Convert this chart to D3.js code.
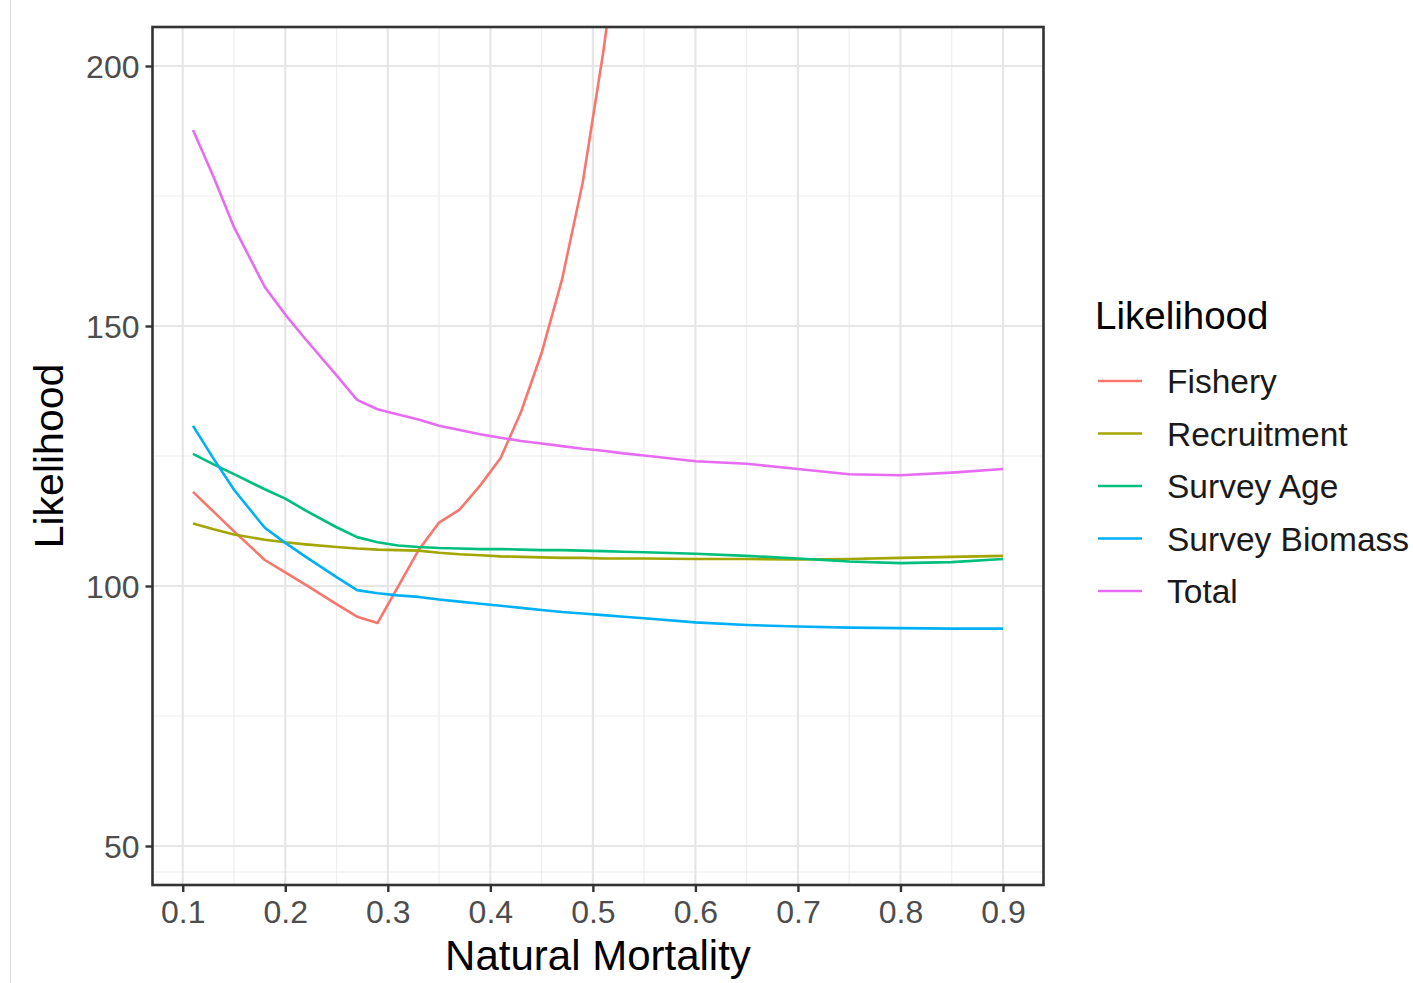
<!DOCTYPE html>
<html>
<head>
<meta charset="utf-8">
<script src="https://cdn.jsdelivr.net/npm/d3@7"></script>
<style>
  html, body { margin: 0; padding: 0; background: #fff; }
  svg { display: block; font-family: "Liberation Sans", Arial, Helvetica, sans-serif; }
</style>
</head>
<body>
<svg id="chart" width="1413" height="983"></svg>
<script>
// Natural mortality values at which the likelihood profile was evaluated
const mortality = [0.11, 0.13, 0.15, 0.18, 0.20, 0.22, 0.25, 0.27, 0.29, 0.31,
                   0.33, 0.35, 0.37, 0.39, 0.41, 0.43, 0.45, 0.47, 0.49, 0.51,
                   0.53, 0.55, 0.60, 0.65, 0.70, 0.75, 0.80, 0.85, 0.90];

// Likelihood components (null = beyond the plotted range)
const fishery = [118.1, 114.3, 110.5, 105.0, 102.6, 100.2, 96.5, 94.1, 92.9, 99.9,
                 106.9, 112.2, 114.7, 119.3, 124.6, 133.5, 144.8, 159.0, 177.5, 202.5,
                 232.0, null, null, null, null, null, null, null, null];
const recruitment = [112.0, 110.9, 109.9, 108.9, 108.4, 108.0, 107.5, 107.2, 107.0, 106.9,
                     106.8, 106.4, 106.1, 105.9, 105.7, 105.6, 105.5, 105.4, 105.4, 105.3,
                     105.3, 105.3, 105.2, 105.2, 105.1, 105.2, 105.4, 105.6, 105.8];
const surveyAge = [125.4, 123.4, 121.5, 118.6, 116.8, 114.5, 111.3, 109.4, 108.4, 107.8,
                   107.5, 107.3, 107.2, 107.1, 107.1, 107.0, 106.9, 106.9, 106.8, 106.7,
                   106.6, 106.5, 106.2, 105.8, 105.3, 104.7, 104.4, 104.6, 105.2];
const surveyBiomass = [130.8, 124.5, 118.5, 111.2, 108.3, 105.6, 101.7, 99.2, 98.6, 98.2,
                       97.9, 97.4, 97.0, 96.6, 96.2, 95.8, 95.4, 95.0, 94.7, 94.4,
                       94.1, 93.8, 93.0, 92.5, 92.2, 92.0, 91.9, 91.8, 91.8];
const total = [187.7, 178.7, 169.0, 157.5, 152.2, 147.4, 140.5, 135.8, 134.0, 133.0,
               132.0, 130.8, 130.0, 129.2, 128.5, 127.9, 127.4, 126.9, 126.4, 126.0,
               125.5, 125.1, 124.0, 123.5, 122.5, 121.5, 121.3, 121.8, 122.5];

const seriesNames = ["Fishery", "Recruitment", "Survey Age", "Survey Biomass", "Total"];
const seriesValues = [fishery, recruitment, surveyAge, surveyBiomass, total];
const seriesColors = ["#F8766D", "#A3A500", "#00BF7D", "#00B0F6", "#E76BF3"];

const xTicks = [0.1, 0.2, 0.3, 0.4, 0.5, 0.6, 0.7, 0.8, 0.9];
const xMinor = [0.15, 0.25, 0.35, 0.45, 0.55, 0.65, 0.75, 0.85];
const yTicks = [50, 100, 150, 200];
const yMinor = [45, 75, 125, 175];

const svg = d3.select("#chart");
const panel = { left: 152.5, right: 1043.5, top: 27, bottom: 885 };

// x spans the data range plus 5% padding; y shows 50–200 plus 5% padding
const x = d3.scaleLinear().domain([0.0705, 0.9395]).range([panel.left, panel.right]);
const y = d3.scaleLinear().domain([42.5, 207.5]).range([panel.bottom, panel.top]);

// faint outer frame of the figure
svg.append("line").attr("x1", 10.5).attr("x2", 10.5).attr("y1", 0).attr("y2", 983)
  .attr("stroke", "#d9d9d9").attr("stroke-width", 1);

// grid
const grid = svg.append("g");
grid.selectAll(".ymin").data(yMinor).join("line")
  .attr("x1", panel.left).attr("x2", panel.right)
  .attr("y1", d => y(d)).attr("y2", d => y(d))
  .attr("stroke", "#EEEEEE").attr("stroke-width", 1.2);
grid.selectAll(".xmin").data(xMinor).join("line")
  .attr("y1", panel.top).attr("y2", panel.bottom)
  .attr("x1", d => x(d)).attr("x2", d => x(d))
  .attr("stroke", "#EEEEEE").attr("stroke-width", 1.2);
grid.selectAll(".ymaj").data(yTicks).join("line")
  .attr("x1", panel.left).attr("x2", panel.right)
  .attr("y1", d => y(d)).attr("y2", d => y(d))
  .attr("stroke", "#E6E6E6").attr("stroke-width", 2.2);
grid.selectAll(".xmaj").data(xTicks).join("line")
  .attr("y1", panel.top).attr("y2", panel.bottom)
  .attr("x1", d => x(d)).attr("x2", d => x(d))
  .attr("stroke", "#E6E6E6").attr("stroke-width", 2.2);

// clip lines to the panel
svg.append("defs").append("clipPath").attr("id", "panelClip")
  .append("rect").attr("x", panel.left).attr("y", panel.top)
  .attr("width", panel.right - panel.left).attr("height", panel.bottom - panel.top);

const line = d3.line()
  .defined(d => d[1] !== null)
  .x(d => x(d[0]))
  .y(d => y(d[1]));

svg.append("g").attr("clip-path", "url(#panelClip)")
  .selectAll("path").data(seriesValues).join("path")
  .attr("d", vals => line(mortality.map((m, i) => [m, vals[i]])))
  .attr("fill", "none")
  .attr("stroke", (d, i) => seriesColors[i])
  .attr("stroke-width", 2.6)
  .attr("stroke-linejoin", "round");

// panel border
svg.append("rect")
  .attr("x", panel.left).attr("y", panel.top)
  .attr("width", panel.right - panel.left).attr("height", panel.bottom - panel.top)
  .attr("fill", "none").attr("stroke", "#333333").attr("stroke-width", 2.6);

// axes
const xAxis = d3.axisBottom(x).tickValues(xTicks).tickFormat(d3.format(".1f"))
  .tickSize(7).tickPadding(6);
const yAxis = d3.axisLeft(y).tickValues(yTicks).tickFormat(d3.format("d"))
  .tickSize(7).tickPadding(6);

const gx = svg.append("g").attr("transform", `translate(0,${panel.bottom})`).call(xAxis);
const gy = svg.append("g").attr("transform", `translate(${panel.left},0)`).call(yAxis);
[gx, gy].forEach(g => {
  g.select(".domain").remove();
  g.selectAll(".tick line").attr("stroke", "#333333").attr("stroke-width", 2.4);
  g.selectAll(".tick text").attr("fill", "#4D4D4D").attr("font-size", 32)
    .attr("font-family", "'Liberation Sans', Arial, sans-serif");
});
gx.selectAll(".tick text").attr("dy", "0.78em");
gy.selectAll(".tick text").attr("dy", "0.36em");

// axis titles
svg.append("text")
  .attr("x", (panel.left + panel.right) / 2).attr("y", 970)
  .attr("text-anchor", "middle").attr("font-size", 42).attr("fill", "#000")
  .text("Natural Mortality");
svg.append("text")
  .attr("transform", `translate(63,${(panel.top + panel.bottom) / 2}) rotate(-90)`)
  .attr("text-anchor", "middle").attr("font-size", 41).attr("fill", "#000")
  .text("Likelihood");

// legend
const legend = svg.append("g");
legend.append("text").attr("x", 1095).attr("y", 329)
  .attr("font-size", 38.5).attr("fill", "#000").text("Likelihood");
const items = legend.selectAll(".item").data(seriesNames).join("g")
  .attr("transform", (d, i) => `translate(0,${381 + i * 52.5})`);
items.append("line").attr("x1", 1098).attr("x2", 1142).attr("y1", 0).attr("y2", 0)
  .attr("stroke", (d, i) => seriesColors[i]).attr("stroke-width", 2.6);
items.append("text").attr("x", 1167).attr("y", 0).attr("dy", "0.36em")
  .attr("font-size", 33.5).attr("fill", "#1a1a1a").text(d => d);
</script>
</body>
</html>
